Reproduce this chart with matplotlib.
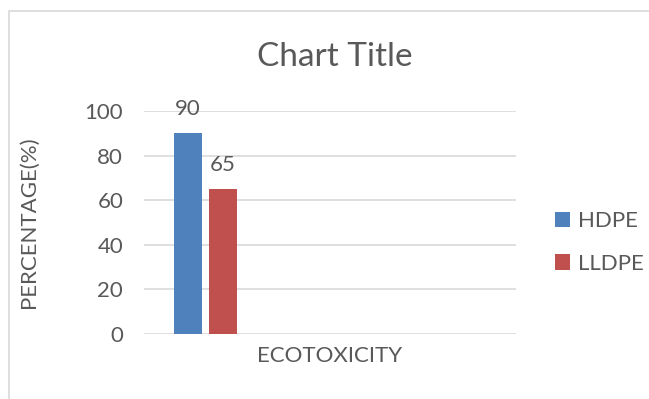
import matplotlib.pyplot as plt
from matplotlib.patches import Rectangle

categories = ['ECOTOXICITY']
series = ['HDPE', 'LLDPE']
values = [90, 65]
colors = ['#4f81bd', '#c0504d']
yticks = [0, 20, 40, 60, 80, 100]

plt.rcParams['font.family'] = ['Lato', 'DejaVu Sans']
txt = '#595959'

fig = plt.figure(figsize=(6.49, 3.99), dpi=100)
ax = fig.add_axes([144 / 649, 65 / 399, 372 / 649, 223 / 399])

# chart border (only top and left edges fall inside the image)
fig.patches.append(Rectangle((9 / 649, -0.1), 1.2, 1.1 - 11 / 399,
                             transform=fig.transFigure, fill=False,
                             edgecolor='#d9d9d9', linewidth=1.2))

offsets = [-0.382, -0.288]
width = 0.075
for i, (name, v) in enumerate(zip(series, values)):
    ax.bar(0 + offsets[i], v, width=width, color=colors[i], label=name, zorder=3)
    ax.text(0 + offsets[i], v + 11, str(v), ha='center', va='center',
            fontsize=16, color=txt)

ax.set_xlim(-0.5, 0.5)
ax.set_ylim(0, 100)
ax.set_yticks(yticks)
ax.set_xticks([0])
ax.set_xticklabels(categories)
ax.grid(axis='y', color='#d9d9d9', linewidth=1.2, zorder=0)
for s in ax.spines.values():
    s.set_visible(False)
ax.tick_params(length=0, colors=txt, labelsize=16)
ax.tick_params(axis='y', pad=15)
ax.tick_params(axis='x', pad=9)
ax.set_ylabel('PERCENTAGE(%)', fontsize=16, color=txt)
ax.yaxis.set_label_coords(-0.282, 0.5)
fig.text(335 / 649, 1 - 57 / 399, 'Chart Title', ha='center', va='center',
         fontsize=24, color=txt)

ax.legend(loc='center left', bbox_to_anchor=(1.105, 0.41), borderaxespad=0,
          borderpad=0, frameon=False, fontsize=16, labelcolor=txt,
          handlelength=0.68, handleheight=0.68, handletextpad=0.35,
          labelspacing=1.0)

plt.savefig('out.png', dpi=100)
plt.close()
